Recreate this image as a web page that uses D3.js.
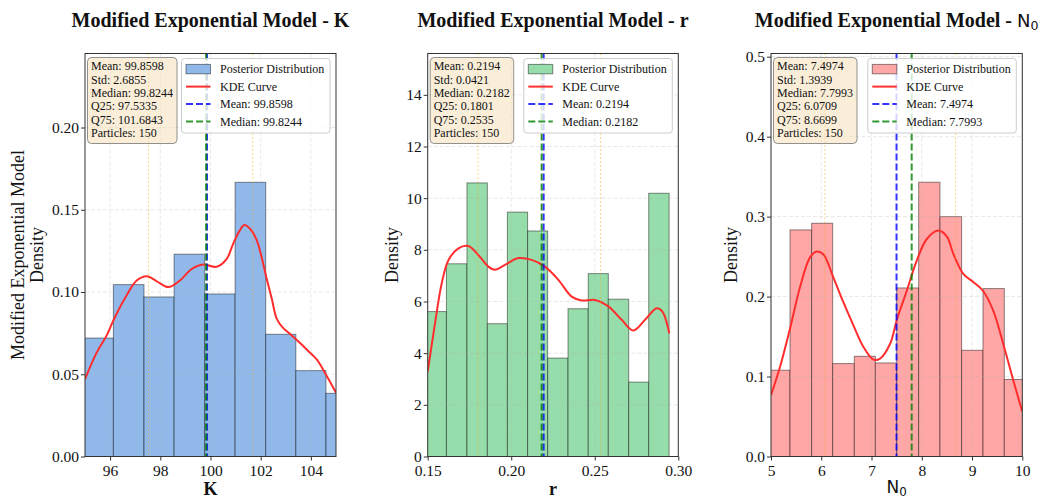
<!DOCTYPE html>
<html>
<head>
<meta charset="utf-8">
<script src="https://cdn.jsdelivr.net/npm/d3@7"></script>
<style>
	body { margin: 0; background: white; }
	svg text { font-family: 'Liberation Serif', 'Times New Roman', serif; fill: #111; }
</style>
</head>
<body>
<div id="outer"></div>
<script>

////////// DATA //////////

// K
const kEdges = [94.92, 96.13, 97.35, 98.55, 99.77, 100.98, 102.20, 103.40, 104.60, 105.81];
const kDensity = [0.072, 0.1045, 0.097, 0.123, 0.0988, 0.1667, 0.0743, 0.0522, 0.0384];
const kKdeX = [95.0, 95.46, 95.86, 96.13, 96.66, 97.06, 97.46, 97.86, 98.32, 98.78, 99.25, 99.71, 100.24, 100.64, 100.91, 101.15, 101.35, 101.6, 101.84, 102.04, 102.24, 102.44, 102.64, 102.9, 103.17, 103.57, 103.9, 104.23, 104.63, 105.0];
const kKdeY = [0.047, 0.063, 0.0735, 0.0827, 0.098, 0.107, 0.1096, 0.1065, 0.103, 0.107, 0.114, 0.1167, 0.1153, 0.120, 0.1296, 0.137, 0.1407, 0.138, 0.1316, 0.121, 0.108, 0.096, 0.0837, 0.078, 0.0745, 0.069, 0.064, 0.059, 0.049, 0.0388];
const kStats = {mean: '99.8598', std: '2.6855', median: '99.8244', q25: '97.5335', q75: '101.6843', particles: 150};
const kXTicks = [96, 98, 100, 102, 104];
const kYTicks = [0, 0.05, 0.10, 0.15, 0.20];

// r
const rEdges = [0.1491, 0.1612, 0.1735, 0.1857, 0.1977, 0.2098, 0.2218, 0.2340, 0.2461, 0.2581, 0.2703, 0.2823, 0.2945];
const rDensity = [5.61, 7.46, 10.59, 5.14, 9.46, 8.73, 3.81, 5.72, 7.08, 6.09, 2.88, 10.19];
const rKdeX = [0.15, 0.1544, 0.1584, 0.1624, 0.1684, 0.1743, 0.1803, 0.1863, 0.1903, 0.1963, 0.2043, 0.2122, 0.2202, 0.2282, 0.2362, 0.2422, 0.2501, 0.2581, 0.2661, 0.2731, 0.2801, 0.287, 0.2905, 0.2946];
const rKdeY = [3.29, 5.16, 6.71, 7.6, 8.06, 8.15, 7.8, 7.35, 7.23, 7.42, 7.68, 7.61, 7.35, 6.84, 6.19, 6.04, 6.06, 5.81, 5.29, 4.88, 5.29, 5.74, 5.61, 4.77];
const rStats = {mean: '0.2194', std: '0.0421', median: '0.2182', q25: '0.1801', q75: '0.2535', particles: 150};
const rXTicks = [0.15, 0.20, 0.25, 0.30];
const rYTicks = [0, 2, 4, 6, 8, 10, 12, 14];

// N0
const nEdges = [4.954, 5.378, 5.809, 6.227, 6.658, 7.076, 7.500, 7.938, 8.362, 8.793, 9.218, 9.642, 10.066];
const nDensity = [0.1079, 0.2834, 0.2917, 0.1162, 0.1253, 0.117, 0.2108, 0.343, 0.300, 0.1328, 0.210, 0.0963];
const nKdeX = [5.0, 5.179, 5.378, 5.577, 5.776, 5.908, 6.04, 6.24, 6.44, 6.64, 6.84, 7.04, 7.17, 7.37, 7.5, 7.7, 7.9, 8.1, 8.33, 8.5, 8.63, 8.83, 9.03, 9.22, 9.42, 9.62, 9.82, 10.0];
const nKdeY = [0.0768, 0.112, 0.16, 0.2116, 0.249, 0.2564, 0.253, 0.224, 0.193, 0.164, 0.137, 0.1212, 0.1224, 0.141, 0.170, 0.207, 0.245, 0.272, 0.2825, 0.275, 0.253, 0.228, 0.218, 0.207, 0.1826, 0.141, 0.0954, 0.056];
const nStats = {mean: '7.4974', std: '1.3939', median: '7.7993', q25: '6.0709', q75: '8.6699', particles: 150};
const nXTicks = [5, 6, 7, 8, 9, 10];
const nYTicks = [0, 0.1, 0.2, 0.3, 0.4, 0.5];


////////// PANELS //////////
const panels = [
	{name: 'K', edges: kEdges, density: kDensity, kdeX: kKdeX, kdeY: kKdeY, stats: kStats,
		xTicks: kXTicks, yTicks: kYTicks, xDomain: [95, 105], yMax: 0.245, xFmt: d3.format('d'), yFmt: d3.format('.2f'),
		fill: '#90b9ea', left: 85, right: 336, yLabelX: [23.5, 42.5], yLabel: ['Modified Exponential Model', 'Density']},
	{name: 'r', edges: rEdges, density: rDensity, kdeX: rKdeX, kdeY: rKdeY, stats: rStats,
		xTicks: rXTicks, yTicks: rYTicks, xDomain: [0.15, 0.30], yMax: 15.6, xFmt: d3.format('.2f'), yFmt: d3.format('d'),
		fill: '#97dcab', left: 427.7, right: 678.3, yLabelX: [397.5], yLabel: ['Density']},
	{name: 'N0', edges: nEdges, density: nDensity, kdeX: nKdeX, kdeY: nKdeY, stats: nStats,
		xTicks: nXTicks, yTicks: nYTicks, xDomain: [5, 10], yMax: 0.504, xFmt: d3.format('d'), yFmt: d3.format('.1f'),
		fill: '#ffa7a7', left: 771, right: 1022.3, yLabelX: [736.5], yLabel: ['Density']}
];

const plotTop = 53.5;
const plotBottom = 456.5;

const svg = d3.select('#outer').append('svg')
	.attr('width', 1041)
	.attr('height', 499);

svg.append('rect').attr('width', 1041).attr('height', 499).attr('fill', 'white');


// draws "N" + subscript 0 as in matplotlib mathtext
function appendSymbol(text, name, size) {
	if (name !== 'N0') {
		text.append('tspan').text(name);
		return;
	}
	text.append('tspan').style('font-family', 'DejaVu Sans').style('font-weight', 'normal').style('font-size', size + 'px').text('N');
	text.append('tspan').style('font-family', 'DejaVu Sans').style('font-weight', 'normal').style('font-size', (size * 0.7) + 'px')
		.attr('dy', size * 0.18).text('0');
}


panels.forEach((p, i) => {
	const g = svg.append('g').attr('class', 'panel');
	const x = d3.scaleLinear().domain(p.xDomain).range([p.left, p.right]);
	const y = d3.scaleLinear().domain([0, p.yMax]).range([plotBottom, plotTop]);
	const cx = (p.left + p.right) / 2;

	g.append('clipPath').attr('id', 'clip' + i)
		.append('rect')
		.attr('x', p.left).attr('y', plotTop)
		.attr('width', p.right - p.left).attr('height', plotBottom - plotTop);

	// BARS
	g.append('g').attr('clip-path', `url(#clip${i})`)
		.selectAll('rect')
		.data(p.density)
		.join('rect')
		.attr('x', (d, j) => x(p.edges[j]))
		.attr('width', (d, j) => x(p.edges[j + 1]) - x(p.edges[j]))
		.attr('y', d => y(d))
		.attr('height', d => plotBottom - y(d))
		.attr('fill', p.fill)
		.attr('stroke', '#000')
		.attr('stroke-opacity', 0.45)
		.attr('stroke-width', 1);

	// GRID
	const grid = g.append('g').attr('class', 'grid')
		.attr('stroke', '#b0b0b0').attr('stroke-opacity', 0.35)
		.attr('stroke-width', 0.8).attr('stroke-dasharray', '4,2');
	grid.selectAll('.gx').data(p.xTicks).join('line').attr('class', 'gx')
		.attr('x1', d => x(d)).attr('x2', d => x(d))
		.attr('y1', plotTop).attr('y2', plotBottom);
	grid.selectAll('.gy').data(p.yTicks).join('line').attr('class', 'gy')
		.attr('y1', d => y(d)).attr('y2', d => y(d))
		.attr('x1', p.left).attr('x2', p.right);

	// KDE
	const kde = p.kdeX.map((v, j) => [v, p.kdeY[j]]);
	g.append('path')
		.datum(kde)
		.attr('clip-path', `url(#clip${i})`)
		.attr('fill', 'none')
		.attr('stroke', '#ff2d2d')
		.attr('stroke-width', 2)
		.attr('d', d3.line().x(d => x(d[0])).y(d => y(d[1])).curve(d3.curveCatmullRom.alpha(0.5)));

	// MEAN / MEDIAN / QUARTILES
	const vline = (v, color, width, dash, opacity) => g.append('line')
		.attr('x1', x(+v)).attr('x2', x(+v))
		.attr('y1', plotTop).attr('y2', plotBottom)
		.attr('stroke', color).attr('stroke-width', width)
		.attr('stroke-dasharray', dash).attr('stroke-opacity', opacity);
	vline(p.stats.mean, '#0000ff', 2, '7,3', 0.8);
	vline(p.stats.median, '#008000', 2, '7,3', 0.8);
	vline(p.stats.q25, '#ffa500', 1, '1.5,2.5', 0.6);
	vline(p.stats.q75, '#ffa500', 1, '1.5,2.5', 0.6);

	// AXES
	const xAxis = g.append('g')
		.attr('transform', `translate(0,${plotBottom})`)
		.call(d3.axisBottom(x).tickValues(p.xTicks).tickFormat(p.xFmt).tickSize(4).tickPadding(4));
	const yAxis = g.append('g')
		.attr('transform', `translate(${p.left},0)`)
		.call(d3.axisLeft(y).tickValues(p.yTicks).tickFormat(p.yFmt).tickSize(4).tickPadding(2));
	[xAxis, yAxis].forEach(a => {
		a.select('.domain').remove();
		a.selectAll('line').attr('stroke', '#333');
		a.selectAll('text').style('font-size', '15.5px').style('font-family', "'Liberation Serif', serif").attr('fill', '#111');
	});

	g.append('rect')
		.attr('x', p.left).attr('y', plotTop)
		.attr('width', p.right - p.left).attr('height', plotBottom - plotTop)
		.attr('fill', 'none').attr('stroke', '#333').attr('stroke-width', 1);

	// TITLE & LABELS
	const title = g.append('text')
		.attr('x', cx).attr('y', 27)
		.attr('text-anchor', 'middle')
		.style('font-size', '20px').style('font-weight', 'bold')
		.text('Modified Exponential Model - ');
	appendSymbol(title, p.name, 18);

	const xLabel = g.append('text')
		.attr('x', cx).attr('y', p.name === 'N0' ? 493 : 495)
		.attr('text-anchor', 'middle')
		.style('font-size', '18px').style('font-weight', 'bold');
	appendSymbol(xLabel, p.name, 17);

	p.yLabel.forEach((t, j) => {
		g.append('text')
			.attr('transform', `translate(${p.yLabelX[j]},${(plotTop + plotBottom) / 2}) rotate(-90)`)
			.attr('text-anchor', 'middle')
			.style('font-size', '18px')
			.text(t);
	});

	// STATS BOX
	const statLines = [
		`Mean: ${p.stats.mean}`,
		`Std: ${p.stats.std}`,
		`Median: ${p.stats.median}`,
		`Q25: ${p.stats.q25}`,
		`Q75: ${p.stats.q75}`,
		`Particles: ${p.stats.particles}`
	];
	const statsGroup = g.append('g');
	const statsBox = statsGroup.append('rect')
		.attr('x', p.left + 2.5).attr('y', plotTop + 4)
		.attr('rx', 4).attr('height', 86)
		.attr('fill', '#f5deb3').attr('fill-opacity', 0.5)
		.attr('stroke', '#777').attr('stroke-opacity', 0.8);
	const statsText = statsGroup.selectAll('text').data(statLines).join('text')
		.attr('x', p.left + 6)
		.attr('y', (d, j) => plotTop + 16.7 + j * 13.4)
		.style('font-size', '12px')
		.text(d => d);
	const statsWidth = d3.max(statsText.nodes(), n => n.getComputedTextLength());
	statsBox.attr('width', statsWidth + 7.5);

	// LEGEND
	const legendW = 148.5;
	const legendX = p.right - 6 - legendW;
	const legendY = plotTop + 5;
	const legend = g.append('g');
	legend.append('rect')
		.attr('x', legendX).attr('y', legendY)
		.attr('width', legendW).attr('height', 74.5)
		.attr('rx', 3)
		.attr('fill', 'white').attr('fill-opacity', 0.8)
		.attr('stroke', '#ccc');
	const rowY = j => legendY + 10.7 + j * 17.4;
	legend.append('rect')
		.attr('x', legendX + 4.5).attr('y', rowY(0) - 4.8)
		.attr('width', 24.5).attr('height', 9.4)
		.attr('fill', p.fill).attr('stroke', '#000').attr('stroke-opacity', 0.45);
	const legendLine = (j, color, dash, opacity) => legend.append('line')
		.attr('x1', legendX + 4.5).attr('x2', legendX + 29)
		.attr('y1', rowY(j)).attr('y2', rowY(j))
		.attr('stroke', color).attr('stroke-width', 2)
		.attr('stroke-dasharray', dash).attr('stroke-opacity', opacity);
	legendLine(1, '#ff2d2d', null, 1);
	legendLine(2, '#0000ff', '7,3', 0.8);
	legendLine(3, '#008000', '7,3', 0.8);
	const legendLabels = ['Posterior Distribution', 'KDE Curve', `Mean: ${p.stats.mean}`, `Median: ${p.stats.median}`];
	legend.selectAll('.lt').data(legendLabels).join('text').attr('class', 'lt')
		.attr('x', legendX + 38.5)
		.attr('y', (d, j) => rowY(j) + 4.2)
		.style('font-size', '12px')
		.text(d => d);
});

</script>
</body>
</html>
